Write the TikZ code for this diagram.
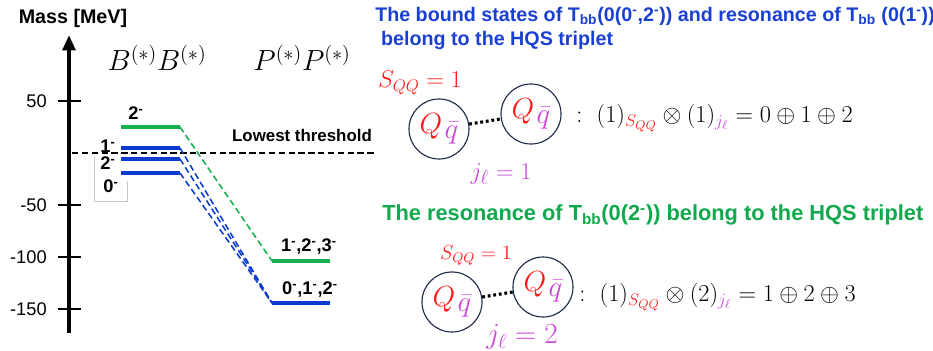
\documentclass[tikz,border=0pt]{standalone}
\usepackage{fontspec}
\setsansfont{Liberation Sans}
\usetikzlibrary{arrows.meta,positioning,calc}
\definecolor{lvlblue}{HTML}{0B3CCF}
\definecolor{lvlgreen}{HTML}{16B04E}
\definecolor{ttlblue}{HTML}{1A40D2}
\definecolor{ttlgreen}{HTML}{12A84C}
\definecolor{spinred}{HTML}{FF1A1A}
\definecolor{jmag}{HTML}{CC44D8}
\definecolor{ring}{HTML}{1E2A48}
\newcommand{\Qqb}{\textcolor{spinred}{\fontsize{22}{24}\selectfont$Q$}\,\raisebox{-0.32em}{\textcolor{jmag}{\fontsize{20}{24}\selectfont$\bar q$}}}

\begin{document}
\begin{tikzpicture}[
  x=0.025cm, y=-0.025cm,
  >=Latex,
  axis/.style={line width=3pt, -{Triangle[length=11pt,width=9pt]}},
  tick/.style={line width=2pt},
  tlab/.style={font=\sffamily\fontsize{13}{15}\selectfont, anchor=east, inner sep=0pt},
  lvl/.style={line width=2.6pt},
  conn/.style={line width=1.1pt, dash pattern=on 4.5pt off 2.5pt},
  jlab/.style={font=\sffamily\bfseries\fontsize{13}{15}\selectfont, inner sep=0pt},
  ttl/.style={font=\sffamily\bfseries\fontsize{14}{16.5}\selectfont, anchor=west, align=left, inner sep=0pt},
  qq/.style={circle, draw=ring, line width=0.8pt, minimum size=1.5cm, inner sep=0pt},
  dotc/.style={line width=2.2pt, dash pattern=on 2pt off 2pt},
  mth/.style={font=\fontsize{18}{20}\selectfont, inner sep=0pt},
]
\useasboundingbox (0,0) rectangle (933,350);
% --- mass axis ---
\coordinate (ax0) at (69,333);
\coordinate (ax1) at (69,35);
\draw[axis] (ax0) -- (ax1);
\foreach \m/\n in {50/a,-50/b,-100/c,-150/d}{
  \draw[tick] (58,{153-1.04*(\m)}) -- (81,{153-1.04*(\m)});
  \node[tlab] (lb\n) at (47,{153-1.04*(\m)}) {\m};
}
\node[jlab, font=\sffamily\bfseries\fontsize{14}{16}\selectfont] (mass) at (73,18) {Mass [MeV]};
% --- thresholds ---
\node[mth, font=\fontsize{20}{22}\selectfont] (bb) at (157,58) {$B^{(*)}B^{(*)}$};
\node[mth, font=\fontsize{20}{22}\selectfont] (pp) at (302,58) {$P^{(*)}P^{(*)}$};
\coordinate (thl) at (72,153);
\coordinate (thr) at (377,153);
\draw[conn, line width=1.2pt] (thl) -- (thr);
\node[jlab, font=\sffamily\bfseries\fontsize{12}{14}\selectfont] (lowest) at (302,135) {Lowest threshold};
% --- upper levels ---
\coordinate (gu2l) at (121,127); \coordinate (gu2r) at (180,127);
\coordinate (bu1l) at (121,148); \coordinate (bu1r) at (180,148);
\coordinate (bu2l) at (121,159); \coordinate (bu2r) at (180,159);
\coordinate (bu0l) at (121,173); \coordinate (bu0r) at (180,173);
\draw[lvl, lvlgreen] (gu2l) -- (gu2r);
\foreach \k in {1,2,0}
  \draw[lvl, lvlblue] (bu\k l) -- (bu\k r);
% odd grey frame round the 0- label
\draw[black!22, line width=0.5pt] (127,181) -- (127,201) -- (94,201) -- (94,157);
\node[jlab] (lg2) at (136,113) {2\textsuperscript{-}};
\node[jlab] (lb1) at (108,146) {1\textsuperscript{-}};
\node[jlab] (lb2) at (108,163) {2\textsuperscript{-}};
\node[jlab] (lb0) at (111,186) {0\textsuperscript{-}};
% --- lower levels ---
\coordinate (gll) at (272,261); \coordinate (glr) at (330,261);
\coordinate (bll) at (272,303); \coordinate (blr) at (330,303);
\draw[lvl, lvlgreen] (gll) -- (glr);
\draw[lvl, lvlblue] (bll) -- (blr);
\node[jlab] (lgl) at (309,247) {1\textsuperscript{-},2\textsuperscript{-},3\textsuperscript{-}};
\node[jlab] (lbl) at (310,290) {0\textsuperscript{-},1\textsuperscript{-},2\textsuperscript{-}};
% --- connectors ---
\draw[conn, lvlgreen] (gu2r) -- (gll);
\foreach \k in {1,2,0}
  \draw[conn, lvlblue] (bu\k r) -- (bll);
% --- first triplet ---
\node[ttl, text=ttlblue] (tta) at (375,28.5) {The bound states of T\textsubscript{bb}(0(0\textsuperscript{-},2\textsuperscript{-})) and resonance of T\textsubscript{bb} (0(1\textsuperscript{-}))\\\hspace*{0.3em}belong to the HQS triplet};
\node[mth, text=spinred] (sqa) at (420,83) {$S_{QQ}=1$};
\node[qq] (qa) at (439,129) {\Qqb};
\node[qq] (qb) at (531,114) {\Qqb};
\draw[dotc] (qa) -- (qb);
\node[mth, text=jmag, font=\fontsize{19}{21}\selectfont] (jla) at (501,174) {$j_\ell=1$};
\node[mth, anchor=west] (eqa) at (576,118) {$:\ (1)_{\textcolor{spinred}{S_{QQ}}}\otimes(1)_{\textcolor{jmag}{j_\ell}}=0\oplus1\oplus2$};
% --- second triplet ---
\node[ttl, text=ttlgreen, font=\sffamily\bfseries\fontsize{15.5}{17}\selectfont] (ttb) at (382,215) {The resonance of T\textsubscript{bb}(0(2\textsuperscript{-})) belong to the HQS triplet};
\node[mth, text=spinred, font=\fontsize{14}{16}\selectfont] (sqb) at (476,255) {$S_{QQ}=1$};
\node[qq] (qc) at (452,302) {\Qqb};
\node[qq] (qd) at (543,287) {\Qqb};
\draw[dotc] (qc) -- (qd);
\node[mth, text=jmag, font=\fontsize{22}{24}\selectfont] (jlb) at (522,337) {$j_\ell=2$};
\node[mth, anchor=west] (eqb) at (579,297) {$:\ (1)_{\textcolor{spinred}{S_{QQ}}}\otimes(2)_{\textcolor{jmag}{j_\ell}}=1\oplus2\oplus3$};
\end{tikzpicture}
\end{document}
